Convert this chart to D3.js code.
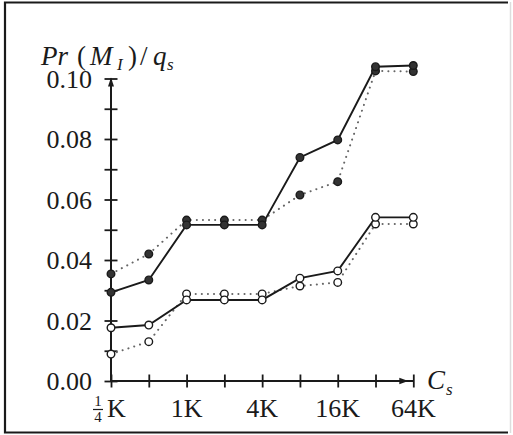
<!DOCTYPE html>
<html>
<head>
<meta charset="utf-8">
<script src="https://cdn.jsdelivr.net/npm/d3@7"></script>
<style>
  html, body { margin: 0; padding: 0; background: #fff; }
  svg { display: block; }
  text { font-family: "Liberation Serif", "DejaVu Serif", serif; fill: #1a1a1a; }
</style>
</head>
<body>
<svg id="chart" width="513" height="435"></svg>
<script>
// Cache sizes C_s, from 1/4K to 64K, doubling each step
const categories = ["1/4K", "1/2K", "1K", "2K", "4K", "8K", "16K", "32K", "64K"];
const labelledCategories = ["1/4K", "1K", "4K", "16K", "64K"];

// Pr(M_I)/q_s for the four configurations
const filledSolid  = [0.0293, 0.0334, 0.0516, 0.0516, 0.0516, 0.0739, 0.0797, 0.1039, 0.1043];
const filledDotted = [0.0354, 0.0420, 0.0532, 0.0532, 0.0532, 0.0615, 0.0659, 0.1025, 0.1023];
const openSolid    = [0.0176, 0.0185, 0.0268, 0.0268, 0.0268, 0.0340, 0.0364, 0.0541, 0.0541];
const openDotted   = [0.0089, 0.0130, 0.0288, 0.0288, 0.0288, 0.0314, 0.0326, 0.0519, 0.0519];

const yTicks = [0, 0.01, 0.02, 0.03, 0.04, 0.05, 0.06, 0.07, 0.08, 0.09, 0.10];
const yLabelled = [0, 0.02, 0.04, 0.06, 0.08, 0.10];

const svg = d3.select("#chart");
const ink = "#1a1a1a";

// Frame around the figure
svg.append("path")
  .attr("d", "M508,2.5 L5,2.5 L5,432.5 L508,432.5")
  .attr("fill", "none").attr("stroke", ink).attr("stroke-width", 2.2);
svg.append("line")
  .attr("x1", 510.5).attr("x2", 510.5).attr("y1", 2).attr("y2", 433)
  .attr("stroke", "#ddd").attr("stroke-width", 1.5);

const x = d3.scalePoint().domain(categories).range([111, 413.3]);
const y = d3.scaleLinear().domain([0, 0.10]).range([381, 78.5]);

// Y axis: ticks crossing the axis line, labels every 0.02
const yAxis = d3.axisLeft(y)
  .tickValues(yTicks)
  .tickSize(0)
  .tickPadding(19)
  .tickFormat(d => yLabelled.some(v => Math.abs(v - d) < 1e-9) ? d3.format(".2f")(d) : "");
const gy = svg.append("g").attr("transform", `translate(${x(categories[0])},0)`).call(yAxis);
gy.attr("font-family", null);
gy.select(".domain").remove();
gy.selectAll(".tick line").attr("x1", -6.5).attr("x2", 6.5)
  .attr("stroke", ink).attr("stroke-width", 1.8);
gy.selectAll(".tick text")
  .attr("font-family", "'Liberation Serif', serif").attr("font-size", 26)
  .attr("fill", ink).attr("dy", "0.34em");

// X axis: ticks at every cache size, labels on alternate ones
const xAxis = d3.axisBottom(x)
  .tickSize(0)
  .tickFormat(() => "");
const gx = svg.append("g").attr("transform", `translate(0,${y(0)})`).call(xAxis);
gx.select(".domain").remove();
gx.selectAll(".tick line").attr("y1", -6.5).attr("y2", 6.5)
  .attr("stroke", ink).attr("stroke-width", 1.8);

// Axis lines with arrowheads
const x0 = x(categories[0]), xEnd = x(categories[categories.length - 1]);
const y0 = y(0), yTop = y(0.10);
svg.append("line").attr("x1", x0).attr("x2", x0).attr("y1", y0 + 1).attr("y2", yTop)
  .attr("stroke", ink).attr("stroke-width", 2);
svg.append("line").attr("x1", x0 - 1).attr("x2", xEnd).attr("y1", y0).attr("y2", y0)
  .attr("stroke", ink).attr("stroke-width", 2);
svg.append("path")
  .attr("d", `M${x0},${yTop - 1} L${x0 - 3},${yTop + 8} L${x0 + 3},${yTop + 8} Z`)
  .attr("fill", ink);
svg.append("path")
  .attr("d", `M${xEnd - 5},${y0} L${xEnd - 14},${y0 - 3.2} L${xEnd - 14},${y0 + 3.2} Z`)
  .attr("fill", ink);

// Tick labels under the x axis
labelledCategories.forEach(c => {
  const cx = x(c);
  if (c === "1/4K") {
    const g = svg.append("g");
    g.append("text").attr("x", cx - 13).attr("y", 406).attr("text-anchor", "middle")
      .attr("font-size", 15).text("1");
    g.append("line").attr("x1", cx - 18).attr("x2", cx - 8).attr("y1", 409.5).attr("y2", 409.5)
      .attr("stroke", ink).attr("stroke-width", 1.2);
    g.append("text").attr("x", cx - 13).attr("y", 422).attr("text-anchor", "middle")
      .attr("font-size", 15).text("4");
    g.append("text").attr("x", cx - 4).attr("y", 417).attr("font-size", 26).text("K");
  } else {
    svg.append("text").attr("x", cx).attr("y", 417).attr("text-anchor", "middle")
      .attr("font-size", 26).text(c);
  }
});

// Axis titles, set piece by piece in math style
function mathText(parts) {
  parts.forEach(p => {
    svg.append("text").attr("x", p.x).attr("y", p.y)
      .attr("font-size", p.size || 27)
      .attr("font-style", p.italic ? "italic" : null)
      .text(p.t);
  });
}
mathText([
  { t: "Pr", x: 41,  y: 65, italic: true },
  { t: "(",  x: 77,  y: 65 },
  { t: "M",  x: 90,  y: 65, italic: true },
  { t: "I",  x: 117, y: 70, italic: true, size: 17 },
  { t: ")",  x: 128, y: 65 },
  { t: "/",  x: 140, y: 65 },
  { t: "q",  x: 153, y: 65, italic: true },
  { t: "s",  x: 167, y: 70, italic: true, size: 17 }
]);
mathText([
  { t: "C", x: 427, y: 389, italic: true },
  { t: "s", x: 446, y: 395, italic: true, size: 17 }
]);

// Series lines
const line = d3.line().x((d, i) => x(categories[i])).y(d => y(d));
const series = [
  { values: filledDotted, dotted: true,  filled: true },
  { values: openDotted,   dotted: true,  filled: false },
  { values: filledSolid,  dotted: false, filled: true },
  { values: openSolid,    dotted: false, filled: false }
];
series.forEach(s => {
  svg.append("path").datum(s.values).attr("d", line).attr("fill", "none")
    .attr("stroke", s.dotted ? "#666" : ink)
    .attr("stroke-width", s.dotted ? 2 : 1.9)
    .attr("stroke-linecap", s.dotted ? "round" : "butt")
    .attr("stroke-dasharray", s.dotted ? "0.1,6" : null);
});

// Markers
series.forEach(s => {
  svg.append("g").selectAll("circle").data(s.values).join("circle")
    .attr("cx", (d, i) => x(categories[i])).attr("cy", d => y(d))
    .attr("r", 3.8)
    .attr("fill", s.filled ? "#333" : "#fff")
    .attr("stroke", ink).attr("stroke-width", 1.4);
});
</script>
</body>
</html>
